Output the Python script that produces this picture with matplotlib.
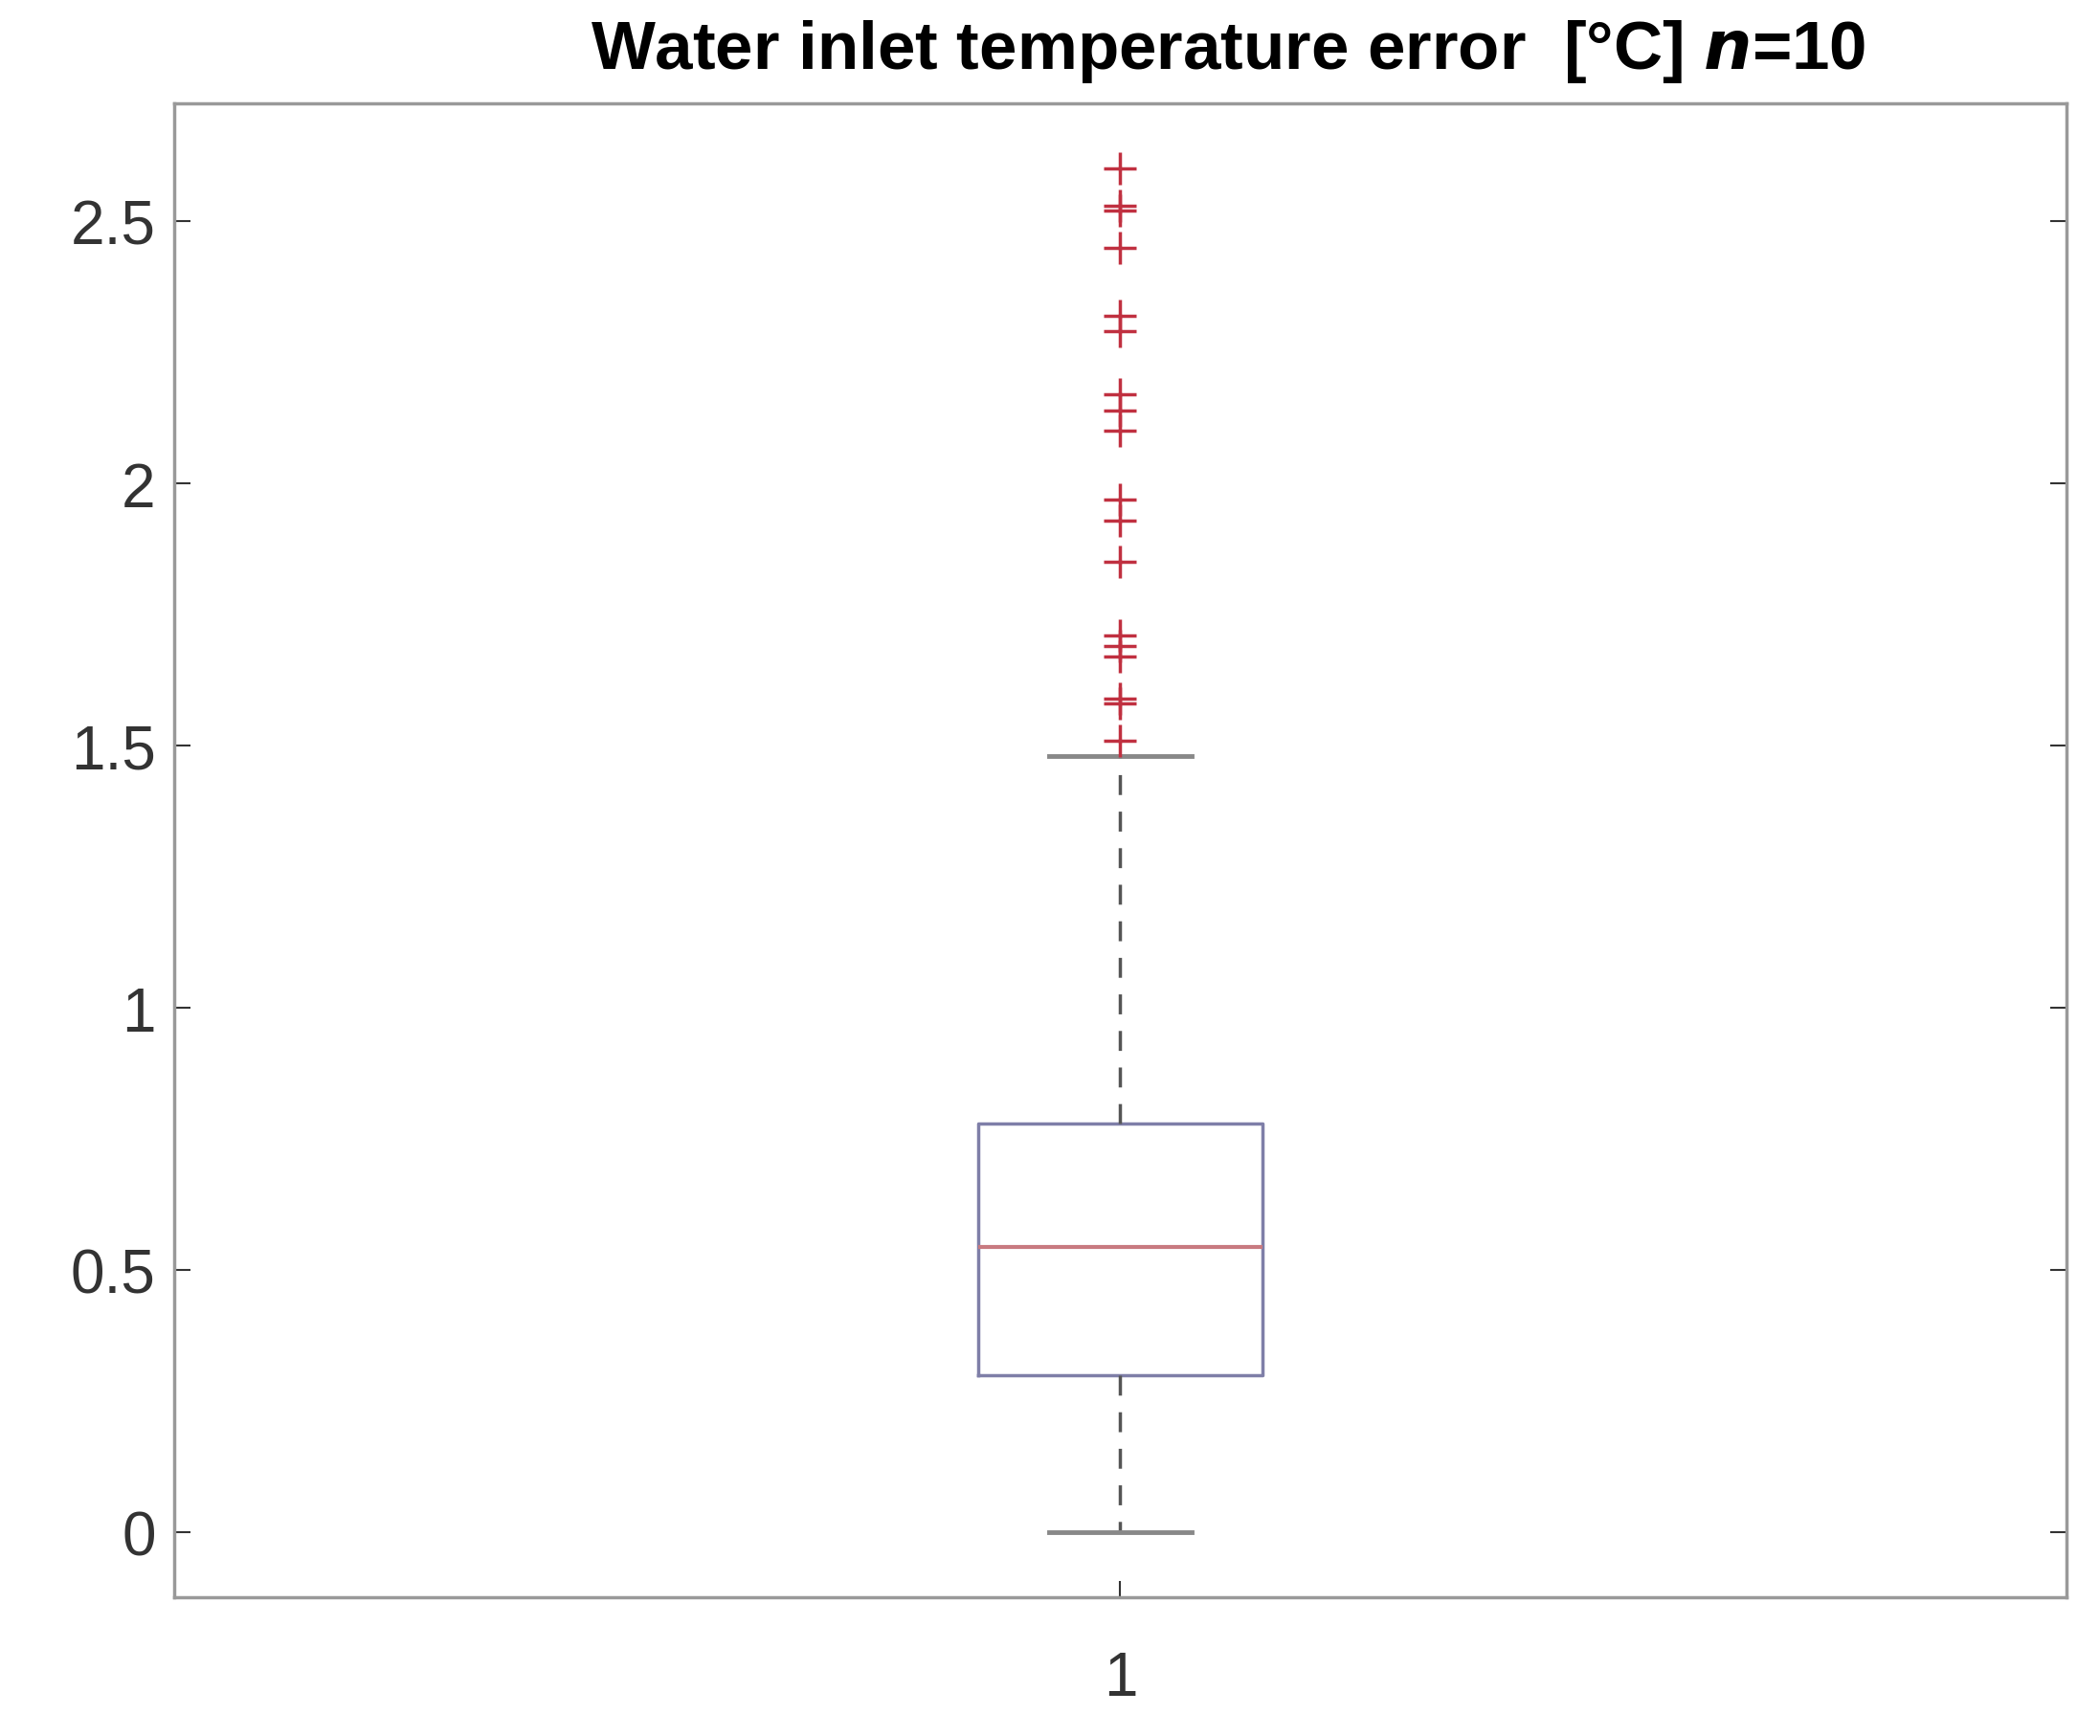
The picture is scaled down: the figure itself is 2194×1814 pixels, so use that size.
import matplotlib.pyplot as plt

# box statistics
q1 = 0.30
median = 0.545
q3 = 0.78
whisker_low = 0.0
whisker_high = 1.48
outliers = [2.60, 2.53, 2.52, 2.45, 2.32, 2.29, 2.17, 2.14, 2.10,
            1.97, 1.93, 1.85, 1.71, 1.69, 1.67, 1.59, 1.58, 1.51]

plt.rcParams['font.family'] = ['Liberation Sans', 'DejaVu Sans']

fig = plt.figure(figsize=(21.94, 18.15), dpi=100)
ax = fig.add_axes([0.083, 0.08, 0.901, 0.86])

stats = [{'med': median, 'q1': q1, 'q3': q3, 'whislo': whisker_low,
          'whishi': whisker_high, 'fliers': outliers, 'label': '1'}]
ax.bxp(stats, widths=0.15,
       boxprops=dict(color='#7f7fa8', linewidth=2.5),
       medianprops=dict(color='#c87a80', linewidth=3),
       whiskerprops=dict(color='#555555', linewidth=2.5, linestyle=(0, (6, 5))),
       capprops=dict(color='#888888', linewidth=3.5),
       capwidths=0.075,
       flierprops=dict(marker='+', markeredgecolor='#c03040', markersize=24,
                       markeredgewidth=2.5))

ax.set_xlim(0.5, 1.5)
ax.set_ylim(-0.123, 2.725)
ax.set_yticks([0, 0.5, 1, 1.5, 2, 2.5])
ax.set_yticklabels(['0', '0.5', '1', '1.5', '2', '2.5'])
ax.tick_params(direction='in', length=12, width=1.5, labelsize=46,
               colors='#333333', right=True, pad=14)
ax.tick_params(axis='x', pad=40)
for s in ax.spines.values():
    s.set_color('#999999')
    s.set_linewidth(2.5)

fig.text(0.585, 0.97, r'Water inlet temperature error  [°C] $\boldsymbol{n}$=10',
         ha='center', va='center', fontsize=51, fontweight='bold')

fig.savefig('out.png')
